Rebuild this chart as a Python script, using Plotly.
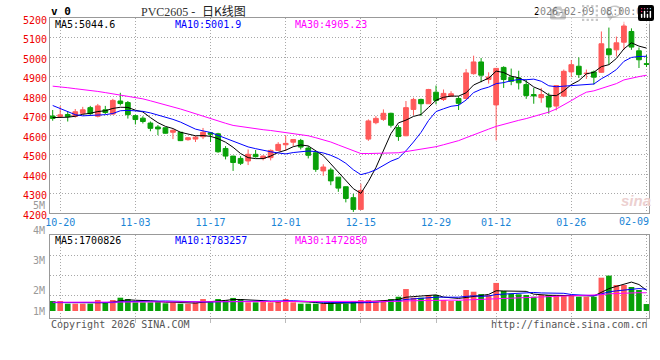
import plotly.graph_objects as go

# ---------------- data ----------------
dates = ["10-17",
         "10-20", "10-21", "10-22", "10-23", "10-24",
         "10-27", "10-28", "10-29", "10-30", "10-31",
         "11-03", "11-04", "11-05", "11-06", "11-07",
         "11-10", "11-11", "11-12", "11-13", "11-14",
         "11-17", "11-18", "11-19", "11-20", "11-21",
         "11-24", "11-25", "11-26", "11-27", "11-28",
         "12-01", "12-02", "12-03", "12-04", "12-05",
         "12-08", "12-09", "12-10", "12-11", "12-12",
         "12-15", "12-16", "12-17", "12-18", "12-19",
         "12-22", "12-23", "12-24", "12-25", "12-26",
         "12-29", "12-30", "12-31",
         "01-05", "01-06", "01-07", "01-08", "01-09",
         "01-12", "01-13", "01-14", "01-15", "01-16",
         "01-19", "01-20", "01-21", "01-22", "01-23",
         "01-26", "01-27", "01-28", "01-29", "01-30",
         "02-02", "02-03", "02-04", "02-05", "02-06",
         "02-09"]

opens = [4698, 4696, 4706, 4697, 4712, 4741, 4697, 4730, 4708, 4775,
         4767, 4700, 4687, 4662, 4642, 4638, 4615, 4615, 4577, 4580,
         4592, 4612, 4607, 4532, 4493, 4481, 4468, 4502, 4481, 4485,
         4522, 4551, 4564, 4573, 4534, 4510, 4417, 4422, 4385, 4336,
         4280, 4220, 4580, 4664, 4681, 4712, 4639, 4597, 4732, 4783,
         4761, 4820, 4783, 4800, 4788, 4788, 4915, 4975, 4885, 4755,
         4947, 4897, 4893, 4859, 4808, 4792, 4800, 4749, 4800, 4924,
         4953, 4915, 4924, 4922, 5042, 5037, 5076, 5131, 5032, 4966]
highs = [4729, 4749, 4722, 4734, 4745, 4750, 4760, 4750, 4786, 4817,
         4775, 4705, 4697, 4670, 4652, 4640, 4630, 4616, 4590, 4597,
         4637, 4615, 4612, 4544, 4494, 4493, 4527, 4524, 4497, 4527,
         4564, 4598, 4578, 4581, 4544, 4519, 4451, 4433, 4386, 4337,
         4300, 4351, 4681, 4698, 4732, 4715, 4651, 4775, 4792, 4787,
         4837, 4854, 4834, 4825, 4800, 4939, 5007, 4995, 4922, 4944,
         4953, 4941, 4930, 4885, 4842, 4842, 4817, 4854, 4936, 4985,
         4998, 4936, 4931, 5131, 5151, 5105, 5181, 5147, 5049, 5012]
lows = [4674, 4694, 4670, 4690, 4706, 4704, 4691, 4708, 4705, 4752,
        4685, 4655, 4660, 4620, 4600, 4608, 4580, 4570, 4572, 4565,
        4580, 4565, 4510, 4476, 4417, 4447, 4447, 4485, 4471, 4471,
        4519, 4519, 4544, 4527, 4481, 4412, 4392, 4344, 4310, 4256,
        4207, 4220, 4571, 4656, 4673, 4639, 4571, 4595, 4702, 4698,
        4760, 4758, 4775, 4797, 4729, 4783, 4910, 4871, 4864, 4573,
        4842, 4856, 4834, 4786, 4761, 4766, 4710, 4727, 4795, 4897,
        4893, 4888, 4859, 4919, 4961, 5003, 5037, 5037, 4944, 4949]
closes = [4686, 4704, 4695, 4720, 4730, 4710, 4750, 4716, 4778, 4762,
          4705, 4680, 4670, 4635, 4632, 4610, 4625, 4572, 4587, 4590,
          4615, 4605, 4515, 4493, 4460, 4456, 4502, 4490, 4493, 4522,
          4553, 4558, 4578, 4539, 4497, 4425, 4437, 4366, 4329, 4276,
          4220, 4317, 4673, 4686, 4712, 4651, 4593, 4741, 4783, 4761,
          4834, 4778, 4814, 4812, 4763, 4919, 4975, 4907, 4898, 4942,
          4885, 4876, 4868, 4803, 4801, 4808, 4744, 4854, 4927, 4961,
          4910, 4917, 4897, 5068, 5012, 5073, 5159, 5051, 4986, 4963]

ma5 = [4690, 4690, 4692, 4697, 4707, 4712, 4721, 4725, 4737, 4743,
       4742, 4728, 4719, 4690, 4664, 4645, 4634, 4615, 4605, 4597,
       4598, 4594, 4582, 4564, 4538, 4506, 4485, 4480, 4480, 4493,
       4512, 4523, 4541, 4550, 4545, 4519, 4495, 4453, 4411, 4367,
       4326, 4302, 4363, 4434, 4522, 4608, 4663, 4677, 4696, 4706,
       4742, 4779, 4794, 4800, 4800, 4817, 4857, 4875, 4892, 4928,
       4921, 4902, 4894, 4875, 4847, 4831, 4805, 4802, 4827, 4859,
       4879, 4914, 4922, 4951, 4961, 4993, 5042, 5073, 5056, 5046]
ma10 = [4752, 4737, 4718, 4705, 4699, 4700, 4702, 4705, 4711, 4725,
        4727, 4725, 4722, 4714, 4704, 4694, 4681, 4667, 4648, 4631,
        4622, 4614, 4599, 4584, 4567, 4552, 4540, 4531, 4522, 4515,
        4509, 4504, 4511, 4515, 4519, 4516, 4509, 4497, 4480, 4456,
        4423, 4398, 4408, 4423, 4444, 4467, 4482, 4520, 4565, 4614,
        4675, 4721, 4735, 4748, 4753, 4780, 4818, 4835, 4846, 4864,
        4869, 4879, 4885, 4884, 4887, 4876, 4853, 4848, 4851, 4853,
        4855, 4859, 4862, 4889, 4910, 4936, 4978, 4998, 5003, 5004]
ma30 = [4851, 4848, 4843, 4838, 4834, 4829, 4824, 4818, 4812, 4806,
        4800, 4793, 4786, 4776, 4766, 4756, 4745, 4734, 4722, 4709,
        4696, 4684, 4672, 4661, 4650, 4644, 4638, 4633, 4628, 4624,
        4619, 4614, 4610, 4604, 4597, 4587, 4577, 4565, 4550, 4534,
        4518, 4506, 4506, 4507, 4510, 4511, 4510, 4516, 4522, 4528,
        4536, 4541, 4551, 4562, 4572, 4587, 4603, 4617, 4631, 4645,
        4656, 4666, 4676, 4685, 4695, 4708, 4718, 4734, 4754, 4777,
        4800, 4820, 4827, 4840, 4850, 4864, 4883, 4893, 4900, 4907]

# volume in millions of lots
volumes = [0.82, 0.82, 0.60, 0.60, 0.60, 0.60, 0.90, 0.71, 0.90, 1.09,
           0.98, 0.71, 0.71, 0.71, 0.82, 0.63, 0.71, 0.60, 0.60, 0.71,
           0.98, 0.82, 0.98, 0.87, 1.07, 0.98, 0.71, 0.71, 0.79, 0.71,
           0.82, 0.98, 0.71, 0.60, 0.60, 0.60, 0.60, 0.71, 0.60, 0.60,
           0.82, 0.90, 0.90, 0.82, 0.87, 0.98, 1.17, 1.80, 1.09, 1.09,
           1.31, 1.31, 0.90, 0.82, 0.82, 1.72, 1.58, 1.39, 1.31, 2.30,
           1.64, 1.42, 1.37, 1.31, 1.17, 1.31, 1.31, 1.31, 1.31, 1.31,
           1.17, 1.17, 1.17, 2.73, 2.90, 2.13, 2.13, 1.97, 1.72, 0.57]
vol_ma5 = [0.70, 0.70, 0.69, 0.69, 0.69, 0.64, 0.66, 0.68, 0.74, 0.84,
           0.92, 0.88, 0.88, 0.84, 0.79, 0.72, 0.72, 0.69, 0.67, 0.65,
           0.72, 0.74, 0.82, 0.87, 0.94, 0.94, 0.92, 0.87, 0.85, 0.78,
           0.75, 0.80, 0.80, 0.76, 0.74, 0.70, 0.62, 0.62, 0.62, 0.62,
           0.67, 0.73, 0.76, 0.81, 0.86, 0.89, 0.95, 1.13, 1.18, 1.23,
           1.29, 1.32, 1.14, 1.09, 1.03, 1.11, 1.17, 1.27, 1.36, 1.66,
           1.64, 1.61, 1.61, 1.61, 1.38, 1.32, 1.29, 1.28, 1.28, 1.31,
           1.28, 1.25, 1.23, 1.51, 1.83, 2.02, 2.21, 2.37, 2.17, 1.70]
vol_ma10 = [0.69, 0.69, 0.69, 0.69, 0.69, 0.69, 0.69, 0.69, 0.69, 0.76,
            0.78, 0.77, 0.78, 0.79, 0.81, 0.82, 0.80, 0.79, 0.76, 0.72,
            0.72, 0.73, 0.76, 0.77, 0.80, 0.83, 0.83, 0.84, 0.86, 0.86,
            0.85, 0.86, 0.84, 0.81, 0.76, 0.72, 0.71, 0.71, 0.69, 0.68,
            0.68, 0.67, 0.69, 0.72, 0.74, 0.78, 0.84, 0.95, 1.00, 1.04,
            1.09, 1.13, 1.13, 1.13, 1.13, 1.20, 1.24, 1.20, 1.23, 1.35,
            1.38, 1.39, 1.44, 1.49, 1.52, 1.48, 1.45, 1.45, 1.45, 1.35,
            1.30, 1.27, 1.25, 1.40, 1.57, 1.65, 1.73, 1.80, 1.84, 1.78]
vol_ma30 = [0.72, 0.72, 0.72, 0.72, 0.72, 0.71, 0.71, 0.71, 0.71, 0.71,
            0.71, 0.71, 0.71, 0.71, 0.71, 0.71, 0.72, 0.72, 0.72, 0.72,
            0.73, 0.73, 0.74, 0.74, 0.75, 0.75, 0.76, 0.76, 0.77, 0.78,
            0.78, 0.79, 0.79, 0.79, 0.79, 0.79, 0.78, 0.78, 0.77, 0.75,
            0.75, 0.76, 0.76, 0.77, 0.77, 0.78, 0.79, 0.83, 0.85, 0.86,
            0.87, 0.89, 0.89, 0.89, 0.88, 0.90, 0.93, 0.95, 0.97, 1.02,
            1.05, 1.07, 1.09, 1.11, 1.13, 1.15, 1.18, 1.20, 1.22, 1.25,
            1.26, 1.27, 1.28, 1.34, 1.41, 1.44, 1.48, 1.48, 1.50, 1.49]

tick_dates = ["10-20", "11-03", "11-17", "12-01", "12-15", "12-29", "01-12", "01-26", "02-09"]
price_ticks = [4200, 4300, 4400, 4500, 4600, 4700, 4800, 4900, 5000, 5100, 5200]
vol_labels = ["1M", "2M", "3M", "4M", "5M"]
price_legend = ["MA5:5044.6", "MA10:5001.9", "MA30:4905.23"]
vol_legend = ["MA5:1700826", "MA10:1783257", "MA30:1472850"]
title_code = "PVC2605 -"
title_cn = "日K线图"
stamp = "2026-02-09 08:00:02"
corner = "v 0"
copyright_txt = "Copyright 2026 SINA.COM"
url_txt = "http://finance.sina.com.cn"

# ---------------- styling / layout geometry ----------------
W, H = 660, 360
PL, PR, PT, PB = 50, 649.3, 18, 318          # plot area in pixels
PRICE_BOTTOM = 213.3
VOL_TOP = 235
VOL_ZERO_PY = 311
VOL_PX_PER_M = 12.2

def fx(px):
    return (px - PL) / (PR - PL)

def fy(py):
    return (PB - py) / (PB - PT)

RED = "#ff5a5a"
GREEN = "#08a008"
MA_COLORS = ["#000000", "#0000ff", "#ff00ff"]
GRID = "#a8a8a8"
BORDER = "#999999"
MONO = "DejaVu Sans Mono"
DOT = "1px,2px"
XLAB = "#1a85d6"

idx = list(range(len(dates)))
step_px = 7.52
first_px = 52.7
x_lo = -(first_px - PL) / step_px
x_hi = x_lo + (PR - PL) / step_px

tickvals = [dates.index(d) for d in tick_dates]
# the last date label sits flush with the right edge (drawn as an annotation below)
ticktext = tick_dates[:-1] + [""]

fig = go.Figure()

fig.add_trace(go.Candlestick(
    x=idx, open=opens, high=highs, low=lows, close=closes,
    increasing=dict(line=dict(color=RED, width=1), fillcolor=RED),
    decreasing=dict(line=dict(color=GREEN, width=1), fillcolor=GREEN),
    whiskerwidth=0, hoverinfo="skip", showlegend=False,
    xaxis="x", yaxis="y"))

for arr, col in zip([ma5, ma10, ma30], MA_COLORS):
    fig.add_trace(go.Scatter(x=idx, y=arr, mode="lines",
                             line=dict(color=col, width=1),
                             hoverinfo="skip", showlegend=False,
                             xaxis="x", yaxis="y"))

bar_colors = [RED if c >= o else GREEN for o, c in zip(opens, closes)]
fig.add_trace(go.Bar(x=idx, y=volumes, marker=dict(color=bar_colors, line=dict(width=0)),
                     hoverinfo="skip", showlegend=False, xaxis="x2", yaxis="y2"))
for arr, col in zip([vol_ma5, vol_ma10, vol_ma30], MA_COLORS):
    fig.add_trace(go.Scatter(x=idx, y=arr, mode="lines",
                             line=dict(color=col, width=1),
                             hoverinfo="skip", showlegend=False,
                             xaxis="x2", yaxis="y2"))

vol_lo = -(PB - VOL_ZERO_PY) / VOL_PX_PER_M
vol_hi = (VOL_ZERO_PY - VOL_TOP) / VOL_PX_PER_M
vol_grid = [(VOL_ZERO_PY - py) / VOL_PX_PER_M for py in (255.7, 275.7, 295.3)]

axis_common = dict(showline=True, linecolor=BORDER, linewidth=1, mirror=True,
                   zeroline=False, showgrid=True, gridcolor=GRID, gridwidth=1,
                   griddash=DOT, fixedrange=True, automargin=False)

annotations = []
for i, (txt, col) in enumerate(zip(price_legend, MA_COLORS)):
    annotations.append(dict(x=fx(54 + 120 * i), y=fy(24), xref="paper", yref="paper",
                            text=txt, showarrow=False, xanchor="left", yanchor="middle",
                            font=dict(family=MONO, size=10, color=col), borderpad=0))
for i, (txt, col) in enumerate(zip(vol_legend, MA_COLORS)):
    annotations.append(dict(x=fx(54 + 120 * i), y=fy(240), xref="paper", yref="paper",
                            text=txt, showarrow=False, xanchor="left", yanchor="middle",
                            font=dict(family=MONO, size=10, color=col), borderpad=0))
for txt, py in zip(vol_labels, [311, 290, 260, 230, 205]):
    annotations.append(dict(x=fx(46), y=fy(py), xref="paper", yref="paper",
                            text=txt, showarrow=False, xanchor="right", yanchor="middle",
                            font=dict(family=MONO, size=10, color="#999999"), borderpad=0))
annotations.append(dict(x=fx(650), y=fy(222), xref="paper", yref="paper", text=tick_dates[-1],
                        showarrow=False, xanchor="right", yanchor="middle", borderpad=0,
                        font=dict(family=MONO, size=10, color=XLAB)))
annotations.append(dict(x=fx(50), y=fy(12), xref="paper", yref="paper", text="<b>" + corner + "</b>",
                        showarrow=False, xanchor="left", yanchor="middle", borderpad=0,
                        font=dict(family=MONO, size=11, color="#000000")))
annotations.append(dict(x=fx(140), y=fy(12), xref="paper", yref="paper", text=title_code,
                        showarrow=False, xanchor="left", yanchor="middle", borderpad=0,
                        font=dict(family="Liberation Serif", size=12, color="#333333")))
annotations.append(dict(x=fx(201), y=fy(11), xref="paper", yref="paper", text=title_cn,
                        showarrow=False, xanchor="left", yanchor="middle", borderpad=0,
                        font=dict(family="Noto Sans CJK SC", size=12, color="#222222")))
annotations.append(dict(x=fx(649.5), y=fy(12), xref="paper", yref="paper", text=stamp,
                        showarrow=False, xanchor="right", yanchor="middle", borderpad=0,
                        font=dict(family=MONO, size=10, color="#000000")))
annotations.append(dict(x=fx(50), y=fy(324), xref="paper", yref="paper", text=copyright_txt,
                        showarrow=False, xanchor="left", yanchor="middle", borderpad=0,
                        font=dict(family=MONO, size=10, color="#555555")))
annotations.append(dict(x=fx(649.5), y=fy(324), xref="paper", yref="paper", text=url_txt,
                        showarrow=False, xanchor="right", yanchor="middle", borderpad=0,
                        font=dict(family=MONO, size=10, color="#555555")))
annotations.append(dict(x=fx(636), y=fy(200), xref="paper", yref="paper", text="<b><i>sina</i></b>",
                        showarrow=False, xanchor="center", yanchor="middle", borderpad=0,
                        font=dict(family="Liberation Sans", size=15, color="#ecd0d0")))

fig.update_layout(
    width=W, height=H,
    margin=dict(l=PL, r=W - PR, t=PT, b=H - PB, pad=0, autoexpand=False),
    paper_bgcolor="white", plot_bgcolor="white",
    showlegend=False,
    boxgap=0.37, boxgroupgap=0,
    bargap=0.246,
    xaxis=dict(axis_common, domain=[0, 1], anchor="y", range=[x_lo, x_hi],
               tickmode="array", tickvals=tickvals, ticktext=ticktext, ticks="",
               tickfont=dict(family=MONO, size=10, color=XLAB),
               rangeslider=dict(visible=False)),
    yaxis=dict(axis_common, domain=[fy(PRICE_BOTTOM), 1], anchor="x", range=[4200, 5200],
               tickmode="array", tickvals=price_ticks, ticks="",
               tickfont=dict(family=MONO, size=10, color="#ee0000"),
               ticklabelshift=2),
    xaxis2=dict(axis_common, domain=[0, 1], anchor="y2", matches="x", range=[x_lo, x_hi],
                tickmode="array", tickvals=tickvals, showticklabels=False,
                ticks="outside", ticklen=4, tickcolor="#bbbbbb"),
    yaxis2=dict(axis_common, domain=[0, fy(VOL_TOP)], anchor="x2", range=[vol_lo, vol_hi],
                tickmode="array", tickvals=vol_grid, showticklabels=False, ticks=""),
    annotations=annotations,
)

fig.write_html("out.html",
               post_script="document.body.style.margin='0';document.body.style.padding='0';"
                           "document.documentElement.style.overflow='hidden';")
